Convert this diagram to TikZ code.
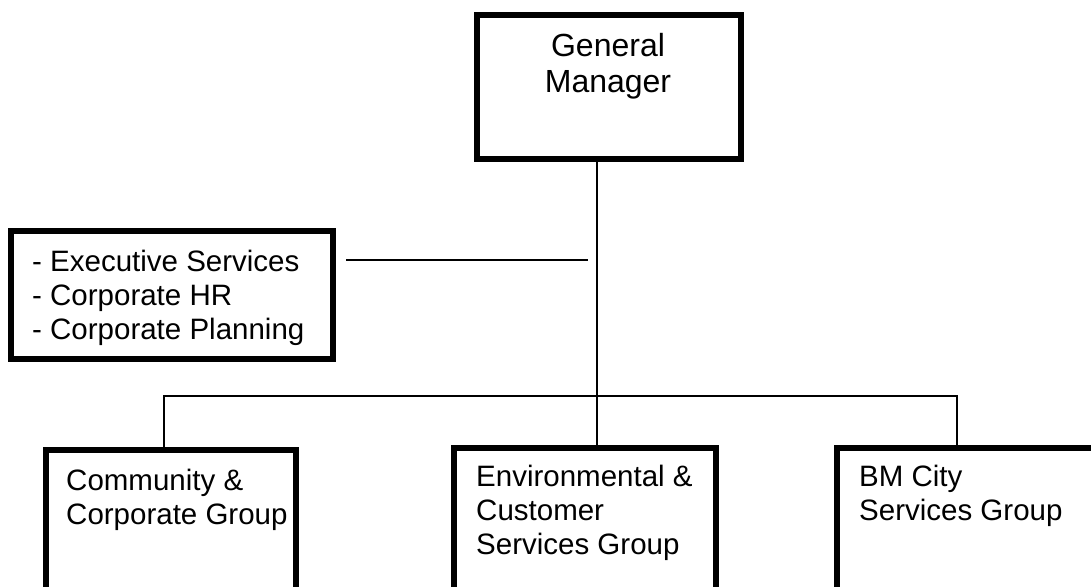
\documentclass[tikz,border=0pt]{standalone}
\usepackage{fontspec}
\setmainfont{Liberation Sans}
\usetikzlibrary{positioning}

\begin{document}
\begin{tikzpicture}[x=1pt, y=-1pt,
  box/.style = {draw, line width=6pt, inner sep=0pt},
  lbl/.style = {inner sep=0pt, align=left, font=\fontsize{29.5}{34}\selectfont},
  wire/.style = {line width=2pt}
  ]
  \useasboundingbox (0,0) rectangle (1091,586);
  \clip (0,0) rectangle (1091,586);

  % boxes
  \node (gm) [box, minimum width=264pt, minimum height=144pt] at (609,87) {};
  \node (exec) [box, minimum width=322pt, minimum height=128pt] at (172,295) {};
  \node (ccg) [box, minimum width=250pt, minimum height=197pt] at (170.5,548.5) {};
  \node (ecs) [box, minimum width=262pt, minimum height=199pt] at (585,547.5) {};
  \node (bmc) [box, minimum width=310pt, minimum height=199pt] at (992,547.5) {};

  % texts
  \node (gmtxt) [lbl, align=center, anchor=north, font=\fontsize{32}{36}\selectfont]
    at (608,33) {General\\Manager};
  \node (exectxt) [lbl, anchor=north west] at (32,250)
    {- Executive Services\\- Corporate HR\\- Corporate Planning};
  \node (ccgtxt) [lbl, anchor=north west] at (66,469) {Community \&\\Corporate Group};
  \node (ecstxt) [lbl, anchor=north west] at (476,465)
    {Environmental \&\\Customer\\Services Group};
  \node (bmctxt) [lbl, anchor=north west] at (859,465) {BM City\\Services Group};

  % lines
  \coordinate (bus) at (597,396);
  \coordinate (sideL) at (346,260);
  \coordinate (sideR) at (588,260);
  \draw [wire] (gm.south -| bus) -- (ecs.north -| bus);
  \draw [wire] (sideL) -- (sideR);
  \draw [wire] (ccg.north -| 164,0) |- (bus) -| (bmc.north -| 957,0);
\end{tikzpicture}
\end{document}
